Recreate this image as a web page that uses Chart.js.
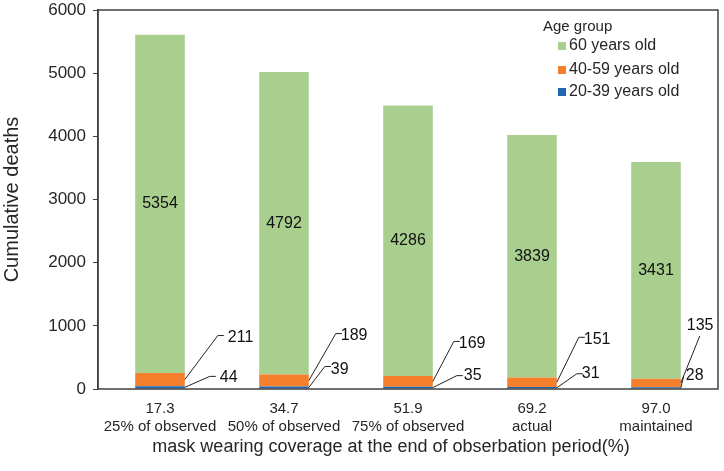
<!DOCTYPE html>
<html>
<head>
<meta charset="utf-8">
<script src="https://cdn.jsdelivr.net/npm/chart.js@4"></script>
<style>
  html, body { margin: 0; padding: 0; background: #fff; }
  #wrap { width: 724px; height: 471px; }
</style>
</head>
<body>
<div id="wrap"><canvas id="barChart" width="724" height="471"></canvas></div>
<script>
// data
var coverage = ['17.3', '34.7', '51.9', '69.2', '97.0'];
var scenario = ['25% of observed', '50% of observed', '75% of observed', 'actual', 'maintained'];
var age20to39 = [44, 39, 35, 31, 28];
var age40to59 = [211, 189, 169, 151, 135];
var age60plus = [5354, 4792, 4286, 3839, 3431];
var yTicks = [0, 1000, 2000, 3000, 4000, 5000, 6000];

var FONT = '"Liberation Sans", Arial, sans-serif';
var TXT = '#262626';

// leader line offsets for the small labels: [lineDx, lineDy, textDx, textDy]
var orangeLead = [[33, -44, 43, -42], [27, -47, 32, -45], [21, -40, 26, -38], [22, -45, 27, -43], [19, -47, 6, -57]];
var blueLead = [[25, -11, 35, -10], [16, -21, 22, -18], [24, -12, 31, -12], [20, -14, 25, -14], [3, -12, 5, -12]];

var labels = [];
for (var i = 0; i < coverage.length; i++) {
  labels.push([coverage[i], scenario[i]]);
}

var extras = {
  id: 'extras',
  afterDatasetsDraw: function(chart) {
    var ctx = chart.ctx;
    var a = chart.chartArea;
    ctx.save();
    // frame
    ctx.strokeStyle = '#404040';
    ctx.lineWidth = 1.5;
    ctx.strokeRect(a.left, a.top, a.right - a.left, a.bottom - a.top);

    ctx.font = '16px ' + FONT;
    ctx.fillStyle = '#111';
    ctx.textBaseline = 'middle';

    // values inside the green bars
    var green = chart.getDatasetMeta(2).data;
    ctx.textAlign = 'center';
    green.forEach(function(el, k) {
      ctx.fillText(age60plus[k], el.x, (el.y + el.base) / 2);
    });

    // leader lines for the thin segments
    ctx.textAlign = 'left';
    ctx.strokeStyle = '#222';
    ctx.lineWidth = 1;
    var lead = function(meta, offs, vals) {
      meta.data.forEach(function(el, k) {
        var xr = el.x + el.width / 2;
        var ym = (el.y + el.base) / 2;
        var o = offs[k];
        ctx.beginPath();
        ctx.moveTo(xr, ym);
        ctx.lineTo(xr + o[0], ym + o[1]);
        if (k < 4) ctx.lineTo(xr + o[0] + 6, ym + o[1]);
        ctx.stroke();
        ctx.fillText(vals[k], xr + o[2], ym + o[3]);
      });
    };
    lead(chart.getDatasetMeta(1), orangeLead, age40to59);
    lead(chart.getDatasetMeta(0), blueLead, age20to39);

    // legend
    var lx = 543, ly = 27;
    ctx.font = '15px ' + FONT;
    ctx.fillStyle = TXT;
    ctx.fillText('Age group', lx, ly);
    ctx.font = '16px ' + FONT;
    var rows = [2, 1, 0];
    var rowY = [46, 70, 92];
    rows.forEach(function(d, r) {
      var ds = chart.data.datasets[d];
      ctx.fillStyle = ds.backgroundColor;
      ctx.fillRect(lx + 15, rowY[r] - 4, 8, 8);
      ctx.fillStyle = TXT;
      ctx.fillText(ds.label, lx + 26, rowY[r]);
    });

    // x axis title, sits a little left of the plot centre in the original
    ctx.font = '18px ' + FONT;
    ctx.textAlign = 'center';
    ctx.fillText('mask wearing coverage at the end of obserbation period(%)', 391, 447);
    ctx.restore();
  }
};

var ctx = document.getElementById('barChart').getContext('2d');
var barChart = new Chart(ctx, {
  type: 'bar',
  data: {
    labels: labels,
    datasets: [
      { label: '20-39 years old', data: age20to39, backgroundColor: '#2068B4' },
      { label: '40-59 years old', data: age40to59, backgroundColor: '#F47F2C' },
      { label: '60 years old', data: age60plus, backgroundColor: '#A9CF8E' }
    ]
  },
  options: {
    responsive: false,
    animation: false,
    layout: { padding: { top: 10, right: 6, left: 0, bottom: 0 } },
    plugins: { legend: { display: false }, tooltip: { enabled: false } },
    datasets: { bar: { categoryPercentage: 1, barPercentage: 0.4 } },
    scales: {
      x: {
        stacked: true,
        grid: { display: false },
        border: { display: false },
        ticks: { color: TXT, font: { family: FONT, size: 15 }, padding: 3, maxRotation: 0 },
        afterFit: function(s) { s.height = 82; }
      },
      y: {
        stacked: true,
        min: 0, max: 6000,
        afterBuildTicks: function(s) { s.ticks = yTicks.map(function(v) { return { value: v }; }); },
        grid: { drawOnChartArea: false, drawTicks: true, tickLength: 5, color: '#404040' },
        border: { display: true, color: '#404040', width: 1.5 },
        ticks: { color: TXT, font: { family: FONT, size: 17 }, padding: 7,
                 callback: function(v) { return String(v); } },
        title: { display: true, text: 'Cumulative deaths', color: TXT, font: { family: FONT, size: 20 }, padding: { top: 0, bottom: 4 } },
        afterFit: function(s) { s.width = 98; s.paddingTop = 0; s.paddingBottom = 0; }
      }
    }
  },
  plugins: [extras]
});
</script>
</body>
</html>
